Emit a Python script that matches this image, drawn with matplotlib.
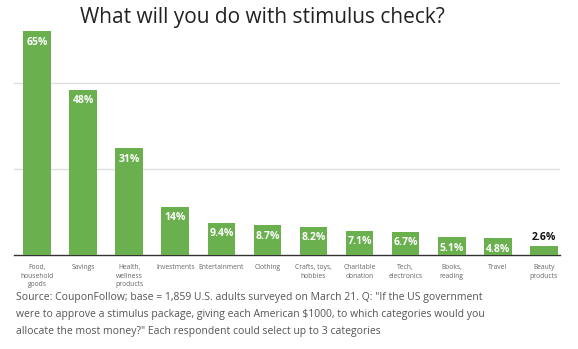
import matplotlib.pyplot as plt

# Datos
categorias = ['Food,\nhousehold\ngoods', 'Savings', 'Health,\nwellness\nproducts',
              'Investments', 'Entertainment', 'Clothing', 'Crafts, toys,\nhobbies',
              'Charitable\ndonation', 'Tech,\nelectronics', 'Books,\nreading',
              'Travel', 'Beauty\nproducts']
valores = [65, 48, 31, 14, 9.4, 8.7, 8.2, 7.1, 6.7, 5.1, 4.8, 2.6]
etiquetas = ['65%', '48%', '31%', '14%', '9.4%', '8.7%', '8.2%', '7.1%',
             '6.7%', '5.1%', '4.8%', '2.6%']

titulo = 'What will you do with stimulus check?'
fuente = ('Source: CouponFollow; base = 1,859 U.S. adults surveyed on March 21. Q: "If the US government\n'
          'were to approve a stimulus package, giving each American $1000, to which categories would you\n'
          'allocate the most money?" Each respondent could select up to 3 categories')

plt.rcParams['font.family'] = ['Open Sans', 'DejaVu Sans']

fig = plt.figure(figsize=(5.78, 3.49), dpi=100)
# eje: base en y=255 px, 65% en y=31 px
ax = fig.add_axes([14 / 578, 1 - 255 / 349, 546 / 578, 224 / 349])

verde = '#6ab04f'
x = range(len(valores))
barras = ax.bar(x, valores, width=0.6, color=verde, zorder=3)

ax.set_xlim(-0.5, 11.35)
ax.set_ylim(0, 65)
ax.set_yticks([25, 50])
ax.yaxis.grid(True, color='#dddddd', linewidth=1, zorder=0)
ax.tick_params(left=False, labelleft=False, bottom=False)
for s in ['top', 'right', 'left']:
    ax.spines[s].set_visible(False)
ax.spines['bottom'].set_color('#333333')
ax.spines['bottom'].set_linewidth(1)

ax.set_xticks(list(x))
ax.set_xticklabels(categorias, fontsize=4.9, color='#666666', linespacing=1.3, va='top')
ax.tick_params(axis='x', pad=3)

for b, v, t in zip(barras, valores, etiquetas):
    if v > 4:
        ax.annotate(t, (b.get_x() + b.get_width() / 2, v), xytext=(0, -4),
                    textcoords='offset points', ha='center', va='top',
                    color='white', fontsize=7.5, fontweight='bold', zorder=4)
    else:
        ax.annotate(t, (b.get_x() + b.get_width() / 2, v), xytext=(0, 2),
                    textcoords='offset points', ha='center', va='bottom',
                    color='#111111', fontsize=7.5, fontweight='bold', zorder=4,
                    annotation_clip=False)

fig.text(262 / 578, 1 - 18 / 349, titulo, ha='center', va='center', fontsize=15,
         color='#222222')
fig.text(16 / 578, 1 - 292 / 349, fuente, ha='left', va='top', fontsize=7.5,
         color='#555555', linespacing=1.72)

fig.savefig('out.png', dpi=100)
